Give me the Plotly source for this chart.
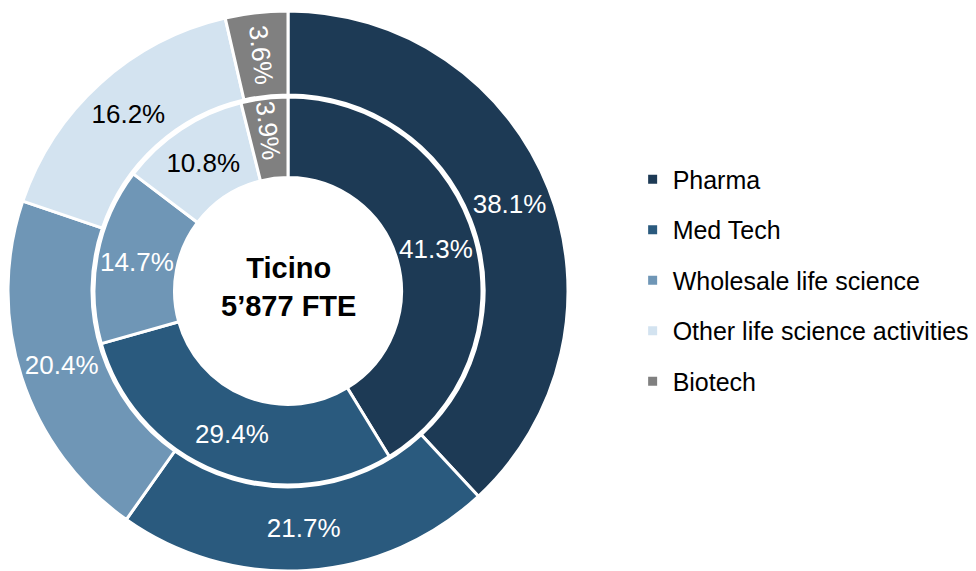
import plotly.graph_objects as go

# segment names, shares in percent (outer ring / inner ring)
labels = ["Pharma", "Med Tech", "Wholesale life science", "Other life science activities", "Biotech"]
outer_share = [38.1, 21.7, 20.4, 16.2, 3.6]
inner_share = [41.3, 29.4, 14.7, 10.8, 3.9]
colors = ["#1d3a55", "#2a5a7e", "#6f96b6", "#d3e3f0", "#808080"]
text_colors = ["white", "white", "white", "black", "white"]
center_text = "<b>Ticino<br>5’877 FTE</b>"

W, H = 976, 571
cx, cy = 280, 288  # pie centre in px (from left, from bottom) of the figure
R_out, R_in = 280, 194


def dom(r):
    return dict(x=[max(0, (cx - r) / W), (cx + r) / W], y=[(cy - r) / H, (cy + r) / H])


font = "Liberation Sans, Arial, sans-serif"

fig = go.Figure()
for share, r, hole in [(outer_share, R_out, 0.70), (inner_share, R_in, 0.585)]:
    fig.add_trace(go.Pie(
        labels=labels, values=share, sort=False, direction="clockwise", rotation=0,
        hole=hole, domain=dom(r), showlegend=False,
        marker=dict(colors=colors, line=dict(color="white", width=3)),
        texttemplate="%{value:.1f}%", textposition="inside",
        insidetextorientation="auto",
        insidetextfont=dict(family=font, size=26, color=text_colors),
        hoverinfo="label+value",
    ))

# legend entries (dummy traces so the spacing between entries can be set)
for name, c in zip(labels, colors):
    fig.add_trace(go.Scatter(
        x=[None], y=[None], mode="markers", name=name, legendgroup=name,
        marker=dict(symbol="square", size=9, color=c),
    ))

fig.add_annotation(text=center_text, x=cx / W, y=cy / H, xref="paper", yref="paper",
                   xanchor="center", yanchor="middle", showarrow=False, yshift=4,
                   font=dict(family=font, size=29, color="black"))

fig.update_layout(
    width=W, height=H, margin=dict(l=0, r=0, t=0, b=0),
    paper_bgcolor="white", plot_bgcolor="white",
    xaxis=dict(visible=False), yaxis=dict(visible=False),
    legend=dict(x=0.64, y=0.74, xanchor="left", yanchor="top",
                font=dict(family=font, size=25, color="black"),
                tracegroupgap=15, itemclick=False),
)

fig.write_html("out.html")
